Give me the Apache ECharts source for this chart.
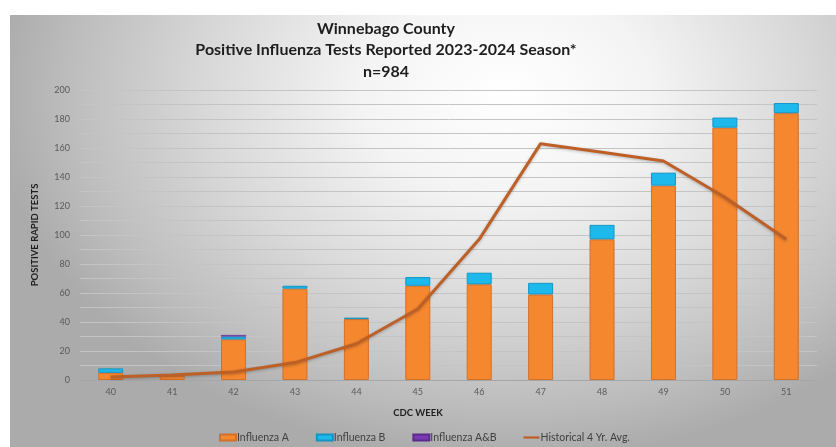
<!DOCTYPE html>
<html>
<head>
<meta charset="utf-8">
<script src="https://cdn.jsdelivr.net/npm/echarts@6/dist/echarts.min.js"></script>
<style>
html,body{margin:0;padding:0;background:#ffffff;}
#bg{position:absolute;left:10px;top:15px;width:826px;height:432px;
background:radial-gradient(ellipse 62% 85% at 60% 18%, #ffffff 0%, #f4f4f4 28%, #d9d9d9 58%, #bdbdbd 85%, #ababab 100%);}
#chart{position:absolute;left:0;top:0;width:836px;height:447px;}
</style>
</head>
<body>
<div id="bg"></div>
<div id="chart"></div>
<script>
const weeks = ['40','41','42','43','44','45','46','47','48','49','50','51'];
const influenzaA = [5, 3, 28, 63, 42, 65, 66, 59, 97, 134, 174, 184];
const influenzaB = [3, 0, 2, 2, 1, 6, 8, 8, 10, 9, 7, 7];
const influenzaAB = [0, 0, 1, 0, 0, 0, 0, 0, 0, 0, 0, 0];
const historicalAvg = [2, 3.5, 5.5, 12, 25, 49, 97, 163, 157, 151, 126, 97];
const yTicks = [0, 20, 40, 60, 80, 100, 120, 140, 160, 180, 200];

const hideZero = arr => arr.map(v => v === 0 ? '-' : v);

const chart = echarts.init(document.getElementById('chart'), null, {renderer: 'canvas'});
const FONT = 'Lato, "Open Sans", sans-serif';
chart.setOption({
  backgroundColor: 'transparent',
  animation: false,
  title: [
    {text: 'Winnebago County', left: 381, top: 16, textAlign: 'center',
     textStyle: {fontFamily: FONT, fontSize: 16, fontWeight: 'bold', color: '#1e1e1e'}},
    {text: 'Positive Influenza Tests Reported 2023-2024 Season*', left: 381, top: 37, textAlign: 'center',
     textStyle: {fontFamily: FONT, fontSize: 16, fontWeight: 'bold', color: '#1e1e1e'}},
    {text: 'n=984', left: 381, top: 59, textAlign: 'center',
     textStyle: {fontFamily: FONT, fontSize: 16, fontWeight: 'bold', color: '#1e1e1e'}}
  ],
  grid: {left: 80, right: 19, top: 90, bottom: 67},
  legend: {
    left: 214, top: 427, itemGap: 27, itemWidth: 16, itemHeight: 6,
    textStyle: {fontFamily: FONT, fontSize: 10.5, color: '#404040', padding: [0,0,0,-4]},
    data: [
      {name: 'Influenza A', icon: 'rect'},
      {name: 'Influenza B', icon: 'rect'},
      {name: 'Influenza A&B', icon: 'rect'},
      {name: 'Historical 4 Yr. Avg.', icon: 'path://M0,0 L16,0 L16,2.2 L0,2.2 Z'}
    ]
  },
  graphic: [
    {type: 'text', style: {text: 'CDC WEEK', x: 418, y: 408, textAlign: 'center',
      font: 'bold 9.5px ' + FONT, fill: '#1e1e1e'}},
    {type: 'text', style: {text: 'POSITIVE RAPID TESTS', textAlign: 'center', textVerticalAlign: 'middle',
      font: 'bold 9.5px ' + FONT, fill: '#1e1e1e'}, x: 35, y: 235, rotation: Math.PI / 2}
  ],
  xAxis: {
    type: 'category', data: weeks,
    axisLine: {lineStyle: {color: '#a6a6a6'}},
    axisTick: {show: false},
    axisLabel: {fontFamily: FONT, fontSize: 9, color: '#595959', margin: 8}
  },
  yAxis: {
    type: 'value', min: 0, max: 200, interval: 10,
    axisLine: {show: false}, axisTick: {show: false},
    axisLabel: {fontFamily: FONT, fontSize: 9, color: '#595959', margin: 10,
      formatter: v => yTicks.includes(v) ? String(v) : ''},
    splitLine: {lineStyle: {color: '#c4c4c4', width: 1}}
  },
  series: [
    {name: 'Influenza A', type: 'bar', stack: 'flu', data: hideZero(influenzaA), barWidth: 25,
     itemStyle: {color: '#F5872F', borderColor: '#D2702C', borderWidth: 1}},
    {name: 'Influenza B', type: 'bar', stack: 'flu', data: hideZero(influenzaB), barWidth: 25,
     itemStyle: {color: '#1DB9EC', borderColor: '#1595C4', borderWidth: 1}},
    {name: 'Influenza A&B', type: 'bar', stack: 'flu', data: hideZero(influenzaAB), barWidth: 25,
     itemStyle: {color: '#7A3AB5', borderColor: '#5b2a8a', borderWidth: 0.5}},
    {name: 'Historical 4 Yr. Avg.', type: 'line', data: historicalAvg, z: 5,
     showSymbol: false, symbol: 'none', color: '#BD6027',
     itemStyle: {color: '#BD6027'},
     lineStyle: {color: '#BD6027', width: 3, shadowColor: 'rgba(0,0,0,0.25)', shadowBlur: 3, shadowOffsetY: 1}}
  ]
});
</script>
</body>
</html>
